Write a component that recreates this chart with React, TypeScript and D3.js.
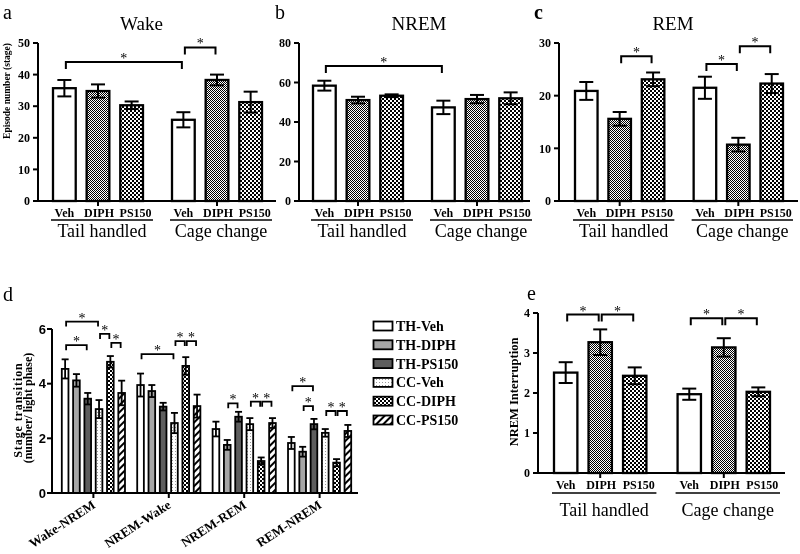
import React from "react";
import * as d3 from "d3";

// ---------- data ----------
const treatments = ["Veh", "DIPH", "PS150"];
const conditions = ["Tail handled", "Cage change"];

const wakeMean = [35.7, 34.8, 30.3, 25.7, 38.3, 31.3];
const wakeErr = [2.6, 2.1, 1.2, 2.4, 1.7, 3.3];
const wakeTicks = [0, 10, 20, 30, 40, 50];
const wakeSig = [[0, 3, 44.0], [3, 4, 48.6]];

const nremMean = [58.4, 51.1, 53.3, 47.4, 51.6, 52.0];
const nremErr = [2.5, 1.7, 0.7, 3.4, 2.1, 3.0];
const nremTicks = [0, 20, 40, 60, 80];
const nremSig = [[0, 3, 68.4]];

const remMean = [20.9, 15.6, 23.1, 21.5, 10.7, 22.3];
const remErr = [1.7, 1.3, 1.3, 2.1, 1.3, 1.8];
const remTicks = [0, 10, 20, 30];
const remSig = [[1, 2, 27.5], [3, 4, 26.0], [4, 5, 29.4]];

const interMean = [2.51, 3.27, 2.43, 1.97, 3.14, 2.03];
const interErr = [0.26, 0.32, 0.21, 0.14, 0.23, 0.11];
const interTicks = [0, 1, 2, 3, 4];
const interSig = [[0, 1, 3.96], [1, 2, 3.96], [3, 4, 3.87], [4, 5, 3.87]];

const transitions = ["Wake-NREM", "NREM-Wake", "NREM-REM", "REM-NREM"];
const seriesNames = ["TH-Veh", "TH-DIPH", "TH-PS150", "CC-Veh", "CC-DIPH", "CC-PS150"];
const thVeh = [4.54, 3.95, 2.34, 1.83];
const thVehErr = [0.35, 0.42, 0.27, 0.22];
const thDiph = [4.12, 3.73, 1.76, 1.51];
const thDiphErr = [0.23, 0.22, 0.18, 0.18];
const thPs = [3.45, 3.16, 2.79, 2.52];
const thPsErr = [0.21, 0.14, 0.18, 0.19];
const ccVeh = [3.07, 2.56, 2.52, 2.2];
const ccVehErr = [0.33, 0.37, 0.22, 0.14];
const ccDiph = [4.8, 4.65, 1.17, 1.11];
const ccDiphErr = [0.21, 0.32, 0.13, 0.13];
const ccPs = [3.66, 3.18, 2.56, 2.27];
const ccPsErr = [0.45, 0.42, 0.18, 0.22];
const transTicks = [0, 2, 4, 6];
// [transition index, bar i, bar j, bracket height]
const transSig = [
  [0, 0, 3, 6.27], [0, 0, 2, 5.41], [0, 3, 4, 5.82], [0, 4, 5, 5.49],
  [1, 0, 3, 5.08], [1, 3, 4, 5.56], [1, 4, 5, 5.56],
  [2, 1, 2, 3.28], [2, 3, 4, 3.34], [2, 4, 5, 3.34],
  [3, 0, 2, 3.91], [3, 1, 2, 3.18], [3, 3, 4, 3.0], [3, 4, 5, 3.0],
];

const SERIF = "'Liberation Serif', 'Times New Roman', serif";
const SANS = "'Liberation Sans', Arial, sans-serif";

function Defs() {
  return (
    <defs>
      <pattern id="fineCheck" width="2" height="2" patternUnits="userSpaceOnUse">
        <rect width="2" height="2" fill="#fff" />
        <rect width="1" height="1" fill="#000" />
        <rect x="1" y="1" width="1" height="1" fill="#000" />
      </pattern>
      <pattern id="coarseCheck" width="4" height="4" patternUnits="userSpaceOnUse">
        <rect width="4" height="4" fill="#fff" />
        <rect width="2" height="2" fill="#000" />
        <rect x="2" y="2" width="2" height="2" fill="#000" />
      </pattern>
      <pattern id="dots" width="3" height="3" patternUnits="userSpaceOnUse">
        <rect width="3" height="3" fill="#fff" />
        <rect x="1" y="1" width="1" height="1" fill="#9a9a9a" />
      </pattern>
      <pattern id="hatch" width="5" height="5" patternUnits="userSpaceOnUse" patternTransform="rotate(45)">
        <rect width="5" height="5" fill="#fff" />
        <rect x="0" y="0" width="2" height="5" fill="#000" />
      </pattern>
    </defs>
  );
}

interface GPProps {
  mean: number[];
  err: number[];
  sig: number[][];
  yMax: number;
  yTicks: number[];
  yTop: number;
  yBottom: number;
  axisX: number;
  axisEnd: number;
  xRange: [number, number];
  groupPad: number;
  title?: string;
  titleX?: number;
  letter: string;
  letterX: number;
  letterY: number;
  letterWeight?: string;
  yLabel?: string;
  yLabelX?: number;
  yLabelY?: number;
  yLabelSize?: number;
  labelDy: number;
  lineDy: number;
  groupDy: number;
}

function GroupPanel(p: GPProps) {
  const y = d3.scaleLinear().domain([0, p.yMax]).range([p.yBottom, p.yTop]);
  const xg = d3.scaleBand<string>().domain(conditions).range(p.xRange).paddingInner(p.groupPad).paddingOuter(0);
  const xt = d3.scaleBand<string>().domain(treatments).range([0, xg.bandwidth()]).paddingInner(0.265).paddingOuter(0);
  const bars = conditions.flatMap((c, ci) =>
    treatments.map((t, ti) => {
      const i = ci * 3 + ti;
      const x = (xg(c) as number) + (xt(t) as number);
      return { c, t, i, ti, x, w: xt.bandwidth(), cx: x + xt.bandwidth() / 2, v: p.mean[i], e: p.err[i] };
    })
  );
  const fills = ["#ffffff", "url(#fineCheck)", "url(#coarseCheck)"];
  const labelShift = [0, 1, 4];
  const y0 = y(0);
  return (
    <g>
      {bars.map((b) => (
        <rect key={"b" + b.i} x={b.x + 1} y={y(b.v)} width={b.w - 2} height={y0 - y(b.v)} fill={fills[b.ti]} stroke="#000" strokeWidth={2.3} />
      ))}
      {bars.map((b) => (
        <g key={"e" + b.i} stroke="#000" strokeWidth={2}>
          <line x1={b.cx} x2={b.cx} y1={y(b.v - b.e)} y2={y(b.v + b.e)} />
          <line x1={b.cx - 7} x2={b.cx + 7} y1={y(b.v + b.e)} y2={y(b.v + b.e)} />
          <line x1={b.cx - 7} x2={b.cx + 7} y1={y(b.v - b.e)} y2={y(b.v - b.e)} />
        </g>
      ))}
      {p.sig.map((s, k) => {
        const x1 = bars[s[0]].cx + 1.5;
        const x2 = bars[s[1]].cx - 1.5;
        const yb = y(s[2]);
        return (
          <g key={"s" + k}>
            <path d={`M${x1},${yb + 7}V${yb}H${x2}V${yb + 7}`} fill="none" stroke="#000" strokeWidth={2} />
            <text x={(x1 + x2) / 2} y={yb + 1} textAnchor="middle" fontFamily={SERIF} fontSize={14} fill="#000">*</text>
          </g>
        );
      })}
      <line x1={p.axisX} x2={p.axisX} y1={y0 + 1} y2={y(p.yMax)} stroke="#000" strokeWidth={2} />
      <line x1={p.axisX - 1} x2={p.axisEnd} y1={y0} y2={y0} stroke="#000" strokeWidth={2} />
      {p.yTicks.map((t) => (
        <g key={"t" + t}>
          <line x1={p.axisX - 5} x2={p.axisX} y1={y(t)} y2={y(t)} stroke="#000" strokeWidth={2} />
          <text x={p.axisX - 8} y={y(t)} dy="0.35em" textAnchor="end" fontFamily={SERIF} fontWeight="bold" fontSize={12}>{t}</text>
        </g>
      ))}
      {conditions.map((c) => {
        const gx = xg(c) as number;
        const bw = xg.bandwidth();
        return (
          <g key={c}>
            <line x1={gx + bw / 2} x2={gx + bw / 2} y1={y0} y2={y0 + 5} stroke="#000" strokeWidth={2} />
            <line x1={gx - 1} x2={gx + bw + 9} y1={y0 + p.lineDy} y2={y0 + p.lineDy} stroke="#000" strokeWidth={1.6} />
            <text x={gx + bw / 2 + 4} y={y0 + p.groupDy} textAnchor="middle" fontFamily={SERIF} fontSize={18}>{c}</text>
          </g>
        );
      })}
      {bars.map((b) => (
        <text key={"l" + b.i} x={b.cx + labelShift[b.ti]} y={y0 + p.labelDy} textAnchor="middle" fontFamily={SERIF} fontWeight="bold" fontSize={12}>{b.t}</text>
      ))}
      {p.title && (
        <text x={p.titleX} y={29.5} textAnchor="middle" fontFamily={SERIF} fontSize={19}>{p.title}</text>
      )}
      <text x={p.letterX} y={p.letterY} fontFamily={SERIF} fontSize={20} fontWeight={p.letterWeight || "normal"}>{p.letter}</text>
      {p.yLabel && (
        <text transform={`translate(${p.yLabelX},${p.yLabelY}) rotate(-90)`} textAnchor="middle" fontFamily={SERIF} fontWeight="bold" fontSize={p.yLabelSize}>{p.yLabel}</text>
      )}
    </g>
  );
}

function TransitionPanel() {
  const series = [thVeh, thDiph, thPs, ccVeh, ccDiph, ccPs];
  const errs = [thVehErr, thDiphErr, thPsErr, ccVehErr, ccDiphErr, ccPsErr];
  const fills = ["#ffffff", "#a6a6a6", "#5e5e5e", "url(#dots)", "url(#coarseCheck)", "url(#hatch)"];
  const y = d3.scaleLinear().domain([0, 6]).range([493, 329]);
  const xD = d3.scaleBand<string>().domain(transitions).range([61, 352]).paddingInner(0.141).paddingOuter(0);
  const xS = d3.scaleBand<string>().domain(seriesNames).range([0, xD.bandwidth()]).paddingInner(0.27).paddingOuter(0);
  const axisX = 52;
  const y0 = y(0);
  const bars = transitions.flatMap((tr, gi) =>
    seriesNames.map((s, si) => {
      const x = (xD(tr) as number) + (xS(s) as number);
      return { gi, si, x, w: xS.bandwidth(), cx: x + xS.bandwidth() / 2, v: series[si][gi], e: errs[si][gi] };
    })
  );
  const barAt = (gi: number, si: number) => bars[gi * seriesNames.length + si];
  return (
    <g>
      {bars.map((b, k) => (
        <rect key={"b" + k} x={b.x + 0.8} y={y(b.v)} width={b.w - 1.6} height={y0 - y(b.v)} fill={fills[b.si]} stroke="#000" strokeWidth={1.8} />
      ))}
      {bars.map((b, k) => (
        <g key={"e" + k} stroke="#000" strokeWidth={1.8}>
          <line x1={b.cx} x2={b.cx} y1={y(b.v - b.e)} y2={y(b.v + b.e)} />
          <line x1={b.cx - 3.5} x2={b.cx + 3.5} y1={y(b.v + b.e)} y2={y(b.v + b.e)} />
          <line x1={b.cx - 3.5} x2={b.cx + 3.5} y1={y(b.v - b.e)} y2={y(b.v - b.e)} />
        </g>
      ))}
      {transSig.map((s, k) => {
        const x1 = barAt(s[0], s[1]).cx + 1;
        const x2 = barAt(s[0], s[2]).cx - 1;
        const yb = y(s[3]);
        return (
          <g key={"s" + k}>
            <path d={`M${x1},${yb + 5}V${yb}H${x2}V${yb + 5}`} fill="none" stroke="#000" strokeWidth={1.8} />
            <text x={(x1 + x2) / 2} y={yb + 1} textAnchor="middle" fontFamily={SERIF} fontSize={14} fill="#000">*</text>
          </g>
        );
      })}
      <line x1={axisX} x2={axisX} y1={y0 + 1} y2={y(6)} stroke="#000" strokeWidth={2} />
      <line x1={axisX - 1} x2={358} y1={y0} y2={y0} stroke="#000" strokeWidth={2} />
      {transTicks.map((t) => (
        <g key={"t" + t}>
          <line x1={axisX - 5} x2={axisX} y1={y(t)} y2={y(t)} stroke="#000" strokeWidth={2} />
          <text x={axisX - 6} y={y(t)} dy="0.36em" textAnchor="end" fontFamily={SANS} fontWeight="bold" fontSize={13}>{t}</text>
        </g>
      ))}
      {transitions.map((tr) => {
        const cx = (xD(tr) as number) + xD.bandwidth() / 2;
        return (
          <g key={tr}>
            <line x1={cx} x2={cx} y1={y0} y2={y0 + 5} stroke="#000" strokeWidth={2} />
            <text transform={`translate(${cx + 3},${y0 + 14}) rotate(-33)`} textAnchor="end" fontFamily={SERIF} fontWeight="bold" fontSize={13}>{tr}</text>
          </g>
        );
      })}
      <text transform={`translate(22,410) rotate(-90)`} textAnchor="middle" fontFamily={SERIF} fontWeight="bold" fontSize={12} letterSpacing={0.9}>Stage transition</text>
      <text transform={`translate(32,408) rotate(-90)`} textAnchor="middle" fontFamily={SERIF} fontWeight="bold" fontSize={12}>(number/ light  phase)</text>
      <text x={3} y={301} fontFamily={SERIF} fontSize={20}>d</text>
      {seriesNames.map((s, i) => {
        const cy = 326 + i * 18.8;
        return (
          <g key={s}>
            <rect x={373.5} y={cy - 4.5} width={19} height={9} fill={fills[i]} stroke="#000" strokeWidth={1.8} />
            <text x={396} y={cy + 5} fontFamily={SERIF} fontWeight="bold" fontSize={14}>{s}</text>
          </g>
        );
      })}
    </g>
  );
}

export default function App() {
  return (
    <div style={{ position: "fixed", left: 0, top: 0, willChange: "transform" }}>
      <svg width={800} height={554} viewBox="0 0 800 554" style={{ display: "block" }}>
        <Defs />
        <GroupPanel
          mean={wakeMean} err={wakeErr} sig={wakeSig} yMax={50} yTicks={wakeTicks}
          yTop={43} yBottom={201} axisX={38} axisEnd={276} xRange={[52, 263]} groupPad={0.227}
          title="Wake" titleX={141.5} letter="a" letterX={3} letterY={19}
          yLabel="Episode number (stage)" yLabelX={10} yLabelY={91} yLabelSize={9.5}
          labelDy={16} lineDy={19} groupDy={36}
        />
        <GroupPanel
          mean={nremMean} err={nremErr} sig={nremSig} yMax={80} yTicks={nremTicks}
          yTop={43} yBottom={201} axisX={299} axisEnd={530} xRange={[312, 523]} groupPad={0.227}
          title="NREM" titleX={419} letter="b" letterX={275} letterY={19}
          labelDy={16} lineDy={19} groupDy={36}
        />
        <GroupPanel
          mean={remMean} err={remErr} sig={remSig} yMax={30} yTicks={remTicks}
          yTop={43} yBottom={201} axisX={559} axisEnd={798} xRange={[574, 784]} groupPad={0.23}
          title="REM" titleX={673} letter="c" letterX={534} letterY={19} letterWeight="bold"
          labelDy={16} lineDy={19} groupDy={36}
        />
        <TransitionPanel />
        <GroupPanel
          mean={interMean} err={interErr} sig={interSig} yMax={4} yTicks={interTicks}
          yTop={313} yBottom={473} axisX={538} axisEnd={785} xRange={[553, 771]} groupPad={0.236}
          letter="e" letterX={527} letterY={300}
          yLabel="NREM Interruption" yLabelX={518} yLabelY={392} yLabelSize={12.5}
          labelDy={16} lineDy={20} groupDy={43}
        />
      </svg>
    </div>
  );
}
